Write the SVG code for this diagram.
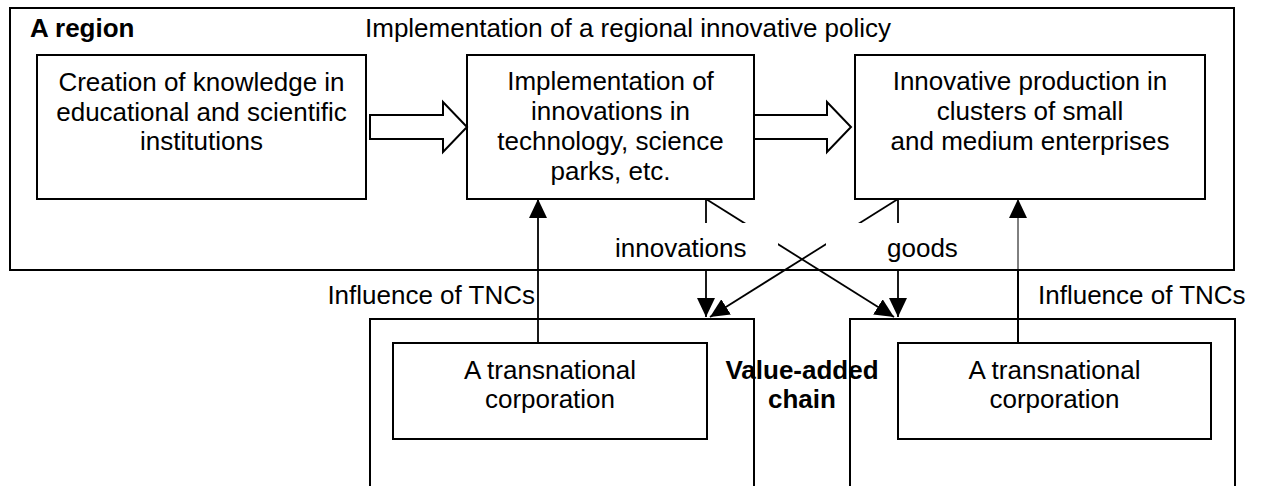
<svg xmlns="http://www.w3.org/2000/svg" width="1264" height="486" viewBox="0 0 1264 486">
<style>
.box{fill:#fff;stroke:#000;stroke-width:2}
.frame{fill:none;stroke:#000;stroke-width:2}
.blk{fill:#fff;stroke:#000;stroke-width:2;stroke-linejoin:miter}
.t{font-family:"Liberation Sans",Arial,sans-serif;font-size:26px;fill:#000}
.c{text-anchor:middle}
.b{font-weight:bold}
.ln{stroke:#000;stroke-width:1.8;fill:none}
.mask{fill:#fff;stroke:none}
</style>
<defs>
<marker id="ah" markerUnits="userSpaceOnUse" viewBox="0 0 19 18" markerWidth="19" markerHeight="18" refX="19" refY="9" orient="auto">
<path d="M0,0 L19,9 L0,18 z" fill="#000"/>
</marker>
</defs>
<g id="region">
<rect class="frame" x="10" y="8" width="1224" height="262"/>
<text class="t b" x="30" y="37">A region</text>
<text class="t" x="365" y="37">Implementation of a regional innovative policy</text>
</g>
<g id="creation">
<rect class="box" x="37" y="55" width="329" height="144"/>
<text class="t c" x="201.5" y="91">Creation of knowledge in</text>
<text class="t c" x="201.5" y="121">educational and scientific</text>
<text class="t c" x="201.5" y="150">institutions</text>
</g>
<g id="implementation">
<rect class="box" x="467" y="55" width="287" height="144"/>
<text class="t c" x="610.5" y="90">Implementation of</text>
<text class="t c" x="610.5" y="120">innovations in</text>
<text class="t c" x="610.5" y="150">technology, science</text>
<text class="t c" x="610.5" y="180">parks, etc.</text>
</g>
<g id="production">
<rect class="box" x="855" y="55" width="350" height="144"/>
<text class="t c" x="1030" y="90">Innovative production in</text>
<text class="t c" x="1030" y="120">clusters of small</text>
<text class="t c" x="1030" y="150">and medium enterprises</text>
</g>
<g id="connectors">
<path class="blk" d="M370,115 L443,115 L443,102 L467,127 L443,152 L443,139 L370,139 Z"/>
<path class="blk" d="M754,115 L827,115 L827,102 L851,127 L827,152 L827,139 L754,139 Z"/>
<line class="ln" x1="706" y1="199" x2="706" y2="317" marker-end="url(#ah)"/>
<line class="ln" x1="898" y1="199" x2="898" y2="317" marker-end="url(#ah)"/>
<line class="ln" x1="706" y1="199" x2="894" y2="317" marker-end="url(#ah)"/>
<line class="ln" x1="898" y1="199" x2="710" y2="317" marker-end="url(#ah)"/>
<line class="ln" x1="538" y1="343" x2="538" y2="199" marker-end="url(#ah)"/>
<line stroke="#000" stroke-width="2" x1="1018" y1="343" x2="1018" y2="270"/>
<line stroke="#000" stroke-width="1" x1="1018" y1="270" x2="1018" y2="199" marker-end="url(#ah)"/>
<rect class="mask" x="585" y="223" width="193" height="46"/>
<rect class="mask" x="826" y="223" width="174" height="46"/>
<text class="t" x="615" y="257">innovations</text>
<text class="t" x="887" y="257">goods</text>
<text class="t" x="535" y="304" text-anchor="end">Influence of TNCs</text>
<text class="t" x="1038" y="304">Influence of TNCs</text>
</g>
<g id="chain-left">
<rect class="frame" x="370" y="319" width="384" height="200"/>
</g>
<g id="chain-right">
<rect class="frame" x="850" y="319" width="385" height="200"/>
</g>
<g id="tnc-left">
<rect class="box" x="393" y="343" width="314" height="96"/>
<text class="t c" x="550" y="379">A transnational</text>
<text class="t c" x="550" y="408">corporation</text>
</g>
<g id="tnc-right">
<rect class="box" x="898" y="343" width="313" height="96"/>
<text class="t c" x="1054.5" y="379">A transnational</text>
<text class="t c" x="1054.5" y="408">corporation</text>
</g>
<g id="value-chain">
<text class="t c b" x="802" y="379">Value-added</text>
<text class="t c b" x="802" y="408">chain</text>
</g>
</svg>
